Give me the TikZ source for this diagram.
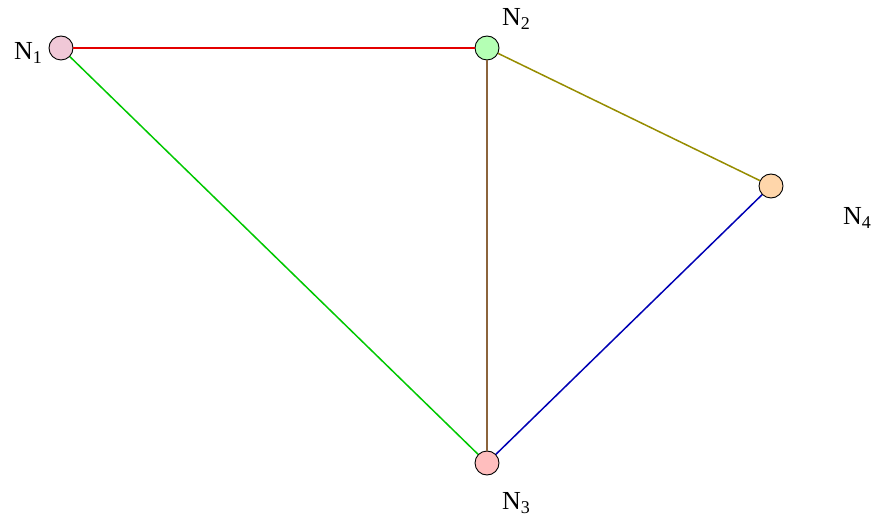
\documentclass[tikz,border=0pt]{standalone}
\usepackage{fontspec}
\setmainfont{Liberation Serif}
\definecolor{eRed}{RGB}{228,0,0}
\definecolor{eGreen}{RGB}{0,200,0}
\definecolor{eBrown}{RGB}{140,100,60}
\definecolor{eOlive}{RGB}{150,140,0}
\definecolor{eBlue}{RGB}{0,0,180}
\definecolor{fA}{RGB}{240,200,215}
\definecolor{fB}{RGB}{180,255,180}
\definecolor{fC}{RGB}{255,190,190}
\definecolor{fD}{RGB}{255,214,170}
\newcommand{\lblfont}{\fontsize{26}{28}\selectfont}
\newcommand{\lblsub}[1]{\raisebox{-4pt}{\fontsize{18}{20}\selectfont #1}}
\begin{document}
\begin{tikzpicture}[x=1pt,y=-1pt,
  vertex/.style={circle,draw=black,line width=0.9pt,minimum size=24pt,inner sep=0pt},
  lbl/.style={inner sep=0pt},
  edge/.style={line width=1.5pt}]
\useasboundingbox (0,0) rectangle (875,518);
\node[vertex,fill=fA] (n1) at (61,48) {};
\node[vertex,fill=fB] (n2) at (487,48) {};
\node[vertex,fill=fC] (n3) at (487,463) {};
\node[vertex,fill=fD] (n4) at (771,186) {};
\node[lbl] (l1) at (28,53) {\lblfont N\lblsub{1}};
\node[lbl] (l2) at (516,19) {\lblfont N\lblsub{2}};
\node[lbl] (l3) at (516,503) {\lblfont N\lblsub{3}};
\node[lbl] (l4) at (857,218) {\lblfont N\lblsub{4}};
\draw[edge,eRed] (n1) -- (n2);
\draw[edge,eGreen] (n1) -- (n3);
\draw[edge,eBrown] (n2) -- (n3);
\draw[edge,eOlive] (n2) -- (n4);
\draw[edge,eBlue] (n3) -- (n4);
\end{tikzpicture}
\end{document}
